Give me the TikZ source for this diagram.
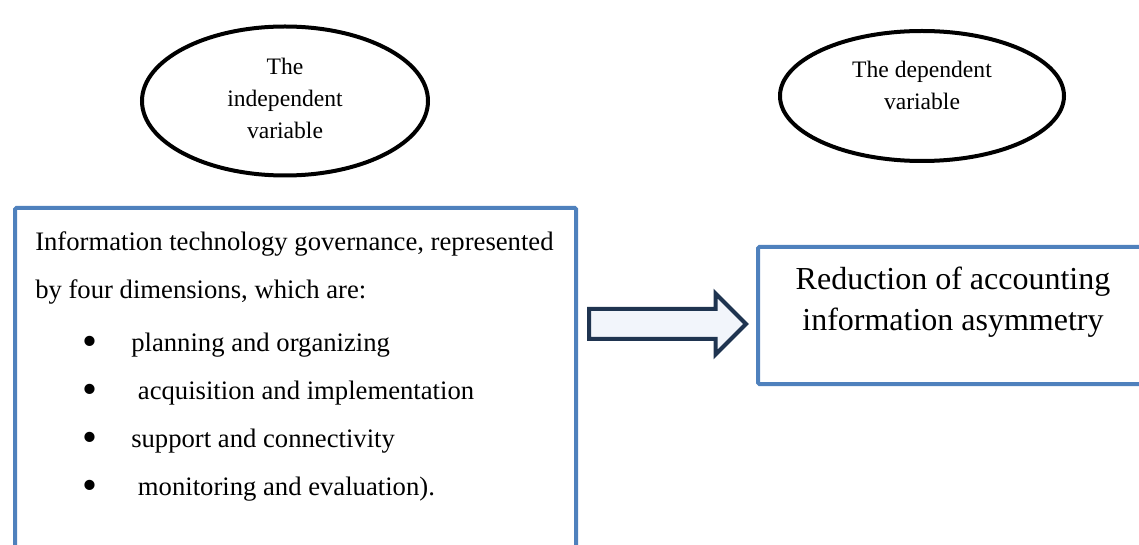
\documentclass[tikz,border=0pt]{standalone}
\usepackage{fontspec}
\setmainfont{Liberation Serif}
\usetikzlibrary{shapes,arrows}
\definecolor{boxblue}{RGB}{79,129,189}
\definecolor{arrownavy}{RGB}{31,52,80}
\definecolor{arrowfill}{RGB}{242,245,251}
\newcommand{\dimbullet}{\hspace*{35.5pt}\makebox[36.5pt][l]{\raisebox{-3.3pt}{\fontsize{32}{32}\selectfont\textbullet}}}
\tikzset{
  varellipse/.style={ellipse, draw=black, line width=3pt, inner sep=0pt},
  vartext/.style={align=center, inner sep=0pt, font=\fontsize{17.7}{24}\selectfont},
  bluebox/.style={draw=boxblue, line width=3pt, rounded corners=1pt, anchor=north west, inner sep=0pt},
}
\begin{document}
\begin{tikzpicture}[x=0.75pt,y=0.75pt,yscale=-1,xscale=1]
\useasboundingbox (0,0) rectangle (1139,545);

%Shape: Ellipse
\node [varellipse, minimum width=214.5pt, minimum height=111.75pt] (ivEllipse) at (285,101) {};
%Shape: Ellipse
\node [varellipse, minimum width=213pt, minimum height=97.5pt] (dvEllipse) at (922,96) {};

%Shape: Rectangle
\node [bluebox, minimum width=420.75pt, minimum height=270pt] (ivBox) at (13,206) {};
%Shape: Rectangle
\node [bluebox, minimum width=296.25pt, minimum height=102.75pt] (dvBox) at (756,245) {};

%Shape: Right Arrow
\node [single arrow, draw=arrownavy, fill=arrowfill, line width=3pt, anchor=tail,
       minimum height=117.75pt, minimum width=42.75pt, inner sep=9.75pt,
       single arrow head extend=11.6pt] (ivToDv) at (587,324) {};

% Text Node
\node [vartext] (ivLabel) at (285,98) {The\\independent\\variable};
% Text Node
\node [vartext] (dvLabel) at (922,85) {The dependent\\variable};
% Text Node
\node [anchor=north west, inner sep=0pt, align=left, font=\fontsize{20}{36}\selectfont] (itgDims) at (35,231)
  {Information technology governance, represented\\
   by four dimensions, which are:\\[3.75pt]
   \dimbullet planning and organizing\\
   \dimbullet\ acquisition and implementation\\
   \dimbullet support and connectivity\\
   \dimbullet\ monitoring and evaluation).};
% Text Node
\node [align=center, inner sep=0pt, font=\fontsize{24}{31}\selectfont] (dvText) at (953,302)
  {Reduction of accounting\\information asymmetry};

\end{tikzpicture}
\end{document}
